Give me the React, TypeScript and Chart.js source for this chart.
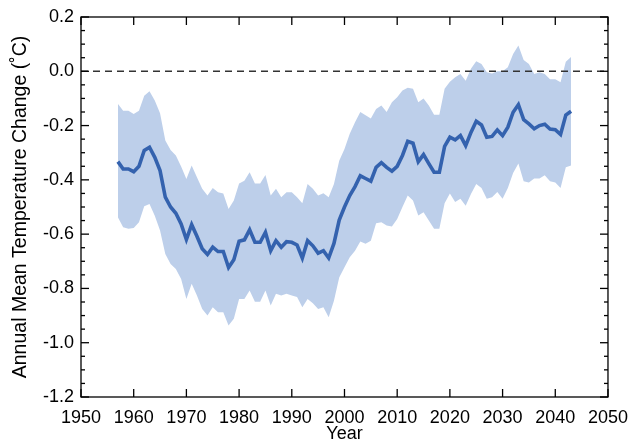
import React, { useRef, useEffect } from "react";
import { Chart, registerables } from "chart.js";

Chart.register(...registerables);

const years = [
  1957, 1958, 1959, 1960, 1961, 1962, 1963, 1964, 1965, 1966,
  1967, 1968, 1969, 1970, 1971, 1972, 1973, 1974, 1975, 1976,
  1977, 1978, 1979, 1980, 1981, 1982, 1983, 1984, 1985, 1986,
  1987, 1988, 1989, 1990, 1991, 1992, 1993, 1994, 1995, 1996,
  1997, 1998, 1999, 2000, 2001, 2002, 2003, 2004, 2005, 2006,
  2007, 2008, 2009, 2010, 2011, 2012, 2013, 2014, 2015, 2016,
  2017, 2018, 2019, 2020, 2021, 2022, 2023, 2024, 2025, 2026,
  2027, 2028, 2029, 2030, 2031, 2032, 2033, 2034, 2035, 2036,
  2037, 2038, 2039, 2040, 2041, 2042, 2043,
];

const meanChange = [
  -0.333, -0.36, -0.36, -0.37, -0.35, -0.292, -0.28, -0.317, -0.366, -0.464,
  -0.5, -0.523, -0.562, -0.62, -0.565, -0.608, -0.654, -0.675, -0.648, -0.664,
  -0.664, -0.723, -0.694, -0.626, -0.621, -0.584, -0.63, -0.63, -0.593, -0.661,
  -0.624, -0.648, -0.628, -0.63, -0.64, -0.688, -0.624, -0.643, -0.67, -0.661,
  -0.688, -0.634, -0.548, -0.5, -0.458, -0.425, -0.385, -0.395, -0.405, -0.354,
  -0.337, -0.354, -0.368, -0.35, -0.31, -0.258, -0.265, -0.333, -0.307, -0.34,
  -0.372, -0.372, -0.277, -0.243, -0.253, -0.237, -0.274, -0.225, -0.184, -0.198,
  -0.243, -0.24, -0.216, -0.237, -0.206, -0.151, -0.123, -0.178, -0.194, -0.212,
  -0.2, -0.195, -0.213, -0.215, -0.233, -0.161, -0.147,
];

const upperBound = [
  -0.12, -0.145, -0.145, -0.157, -0.145, -0.09, -0.074, -0.108, -0.155, -0.255,
  -0.29, -0.31, -0.351, -0.397, -0.347, -0.39, -0.433, -0.458, -0.43, -0.446,
  -0.45, -0.507, -0.476, -0.413, -0.403, -0.372, -0.413, -0.413, -0.382, -0.458,
  -0.433, -0.464, -0.446, -0.446, -0.464, -0.486, -0.415, -0.433, -0.458, -0.449,
  -0.464, -0.415, -0.33, -0.286, -0.23, -0.188, -0.15, -0.162, -0.174, -0.139,
  -0.126, -0.15, -0.114, -0.096, -0.071, -0.061, -0.064, -0.114, -0.1, -0.126,
  -0.16, -0.16, -0.064, -0.039, -0.022, -0.01, -0.035, 0.009, 0.037, 0.027,
  -0.004, -0.008, 0.0, 0.0, 0.015, 0.064, 0.095, 0.042, 0.027, -0.01,
  -0.004, -0.01, -0.029, -0.029, -0.04, 0.035, 0.053,
];

const lowerBound = [
  -0.538, -0.575, -0.58, -0.577, -0.556, -0.497, -0.489, -0.532, -0.587, -0.673,
  -0.71, -0.728, -0.765, -0.839, -0.783, -0.826, -0.876, -0.9, -0.869, -0.888,
  -0.888, -0.937, -0.912, -0.839, -0.839, -0.808, -0.849, -0.849, -0.808, -0.863,
  -0.82, -0.826, -0.82, -0.826, -0.832, -0.869, -0.839, -0.855, -0.876, -0.869,
  -0.906, -0.845, -0.76, -0.722, -0.685, -0.661, -0.627, -0.635, -0.624, -0.56,
  -0.556, -0.568, -0.572, -0.544, -0.5, -0.458, -0.476, -0.531, -0.519, -0.55,
  -0.58, -0.58, -0.486, -0.45, -0.482, -0.47, -0.495, -0.452, -0.415, -0.43,
  -0.47, -0.464, -0.445, -0.47, -0.43, -0.375, -0.34, -0.405, -0.41, -0.395,
  -0.395, -0.383, -0.405, -0.41, -0.43, -0.354, -0.347,
];

const xTicks = [1950, 1960, 1970, 1980, 1990, 2000, 2010, 2020, 2030, 2040, 2050];
const yTicks = [-1.2, -1.0, -0.8, -0.6, -0.4, -0.2, 0.0, 0.2];
const zeroLevel = 0;

const family = "'Liberation Sans', Arial, sans-serif";
const font = { family, size: 18, lineHeight: 1 };

// border box + inward ticks on all four sides
const frameTicks = {
  id: "frameTicks",
  afterDatasetsDraw(chart: any) {
    const { ctx, chartArea: a, scales } = chart;
    const sx = scales.x;
    const sy = scales.y;
    const seg = (x1: number, y1: number, x2: number, y2: number) => {
      ctx.beginPath();
      ctx.moveTo(x1, y1);
      ctx.lineTo(x2, y2);
      ctx.stroke();
    };
    ctx.save();
    ctx.strokeStyle = "#000";
    ctx.lineWidth = 1.3;
    ctx.strokeRect(a.left, a.top, a.right - a.left, a.bottom - a.top);
    xTicks.forEach((v) => {
      const px = sx.getPixelForValue(v);
      seg(px, a.bottom, px, a.bottom - 8);
      seg(px, a.top, px, a.top + 8);
    });
    yTicks.forEach((v, i) => {
      const py = sy.getPixelForValue(v);
      seg(a.left, py, a.left + 8, py);
      seg(a.right, py, a.right - 8, py);
      if (i < yTicks.length - 1) {
        const step = (yTicks[i + 1] - v) / 4;
        for (let k = 1; k < 4; k++) {
          const pm = sy.getPixelForValue(v + step * k);
          seg(a.left, pm, a.left + 4, pm);
          seg(a.right, pm, a.right - 4, pm);
        }
      }
    });
    ctx.restore();
  },
};

const App: React.FC = () => {
  const chartRef = useRef<HTMLCanvasElement | null>(null);

  useEffect(() => {
    document.body.style.margin = "0";
    if (!chartRef.current) return;
    const ctx = chartRef.current.getContext("2d");
    if (!ctx) return;

    const pts = (vals: number[]) => years.map((yr, i) => ({ x: yr, y: vals[i] }));

    const chartInstance = new Chart(ctx, {
      type: "line",
      data: {
        datasets: [
          {
            label: "lower",
            data: pts(lowerBound),
            borderWidth: 0,
            pointRadius: 0,
            fill: false,
            order: 3,
          },
          {
            label: "upper",
            data: pts(upperBound),
            borderWidth: 0,
            pointRadius: 0,
            backgroundColor: "#bdcfea",
            fill: "-1",
            order: 3,
          },
          {
            label: "mean",
            data: pts(meanChange),
            borderColor: "#3462ae",
            borderWidth: 3.6,
            pointRadius: 0,
            fill: false,
            order: 2,
          },
          {
            label: "zero",
            data: [
              { x: xTicks[0], y: zeroLevel },
              { x: xTicks[xTicks.length - 1], y: zeroLevel },
            ],
            borderColor: "#333",
            borderWidth: 1.4,
            borderDash: [7, 5],
            pointRadius: 0,
            fill: false,
            order: 1,
          },
        ],
      },
      options: {
        responsive: false,
        animation: false,
        devicePixelRatio: 1,
        layout: { padding: { top: 17, right: 22, left: 0, bottom: 0 } },
        plugins: {
          legend: { display: false },
          tooltip: { enabled: false },
        },
        elements: { line: { tension: 0 } },
        scales: {
          x: {
            type: "linear",
            min: 1950,
            max: 2050,
            grid: { display: false, drawTicks: false },
            border: { display: false },
            ticks: {
              stepSize: 10,
              color: "#000",
              font,
              padding: 12,
              maxRotation: 0,
              autoSkip: false,
              callback: (v: any) => String(v),
            },
            title: {
              display: true,
              text: "Year",
              color: "#000",
              font,
              padding: { top: 0, bottom: 0 },
            },
            afterFit: (s: any) => {
              s.height = 46;
            },
          },
          y: {
            min: -1.2,
            max: 0.2,
            grid: { display: false, drawTicks: false },
            border: { display: false },
            ticks: {
              stepSize: 0.2,
              color: "#000",
              font,
              padding: 7,
              callback: (v: any) => Number(v).toFixed(1),
            },
            title: {
              display: true,
              text: "Annual Mean Temperature Change (˚C)",
              color: "#000",
              font: { family, size: 19.5, lineHeight: 1 },
              padding: { top: 11, bottom: 0 },
            },
            afterFit: (s: any) => {
              s.width = 81;
            },
          },
        },
      },
      plugins: [frameTicks],
    });

    return () => {
      chartInstance.destroy();
    };
  }, []);

  return (
    <div style={{ width: 640, height: 443, background: "#fff" }}>
      <canvas ref={chartRef} width={640} height={443} />
    </div>
  );
};

export default App;
